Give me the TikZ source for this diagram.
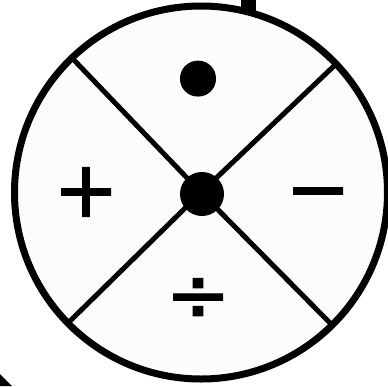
\documentclass[tikz,border=0pt]{standalone}
\usepackage{fontspec}
\setmainfont{DejaVu Sans}
\newfontfamily\opfont[FakeBold=1.5]{DejaVu Sans}
\definecolor{wheelfill}{RGB}{252,252,252}
\begin{document}
\begin{tikzpicture}[x=1pt,y=-1pt,
  rim/.style={line width=7pt, draw=black, fill=wheelfill},
  spoke/.style={line width=5pt, draw=black},
  sym/.style={inner sep=0pt, text=black, font=\opfont\fontsize{78}{78}\selectfont},
  bigdot/.style={inner sep=0pt, text=black, font=\opfont\fontsize{118}{118}\selectfont},
  hubdot/.style={circle, fill=black, minimum size=44pt, inner sep=0pt},
]
\useasboundingbox (0,0) rectangle (388,386);
% cut-off pieces at the edges
\fill[black] (241,0) rectangle (256,12);
\fill[black] (0,374) -- (12,386) -- (0,386) -- cycle;
% wheel
\coordinate (c) at (201,192.5);
\draw[rim] (c) circle (186.5pt);
\coordinate (tl) at (72,58);
\coordinate (tr) at (335,65);
\coordinate (bl) at (68,323);
\coordinate (br) at (333,326);
\draw[spoke] (c) -- (tl);
\draw[spoke] (c) -- (tr);
\draw[spoke] (c) -- (bl);
\draw[spoke] (c) -- (br);
\node[hubdot] (hub) at (202,194) {};
% operators
\node[bigdot] (times) at (198,92) {•};
\node[sym] (plus) at (86,192) {+};
\node[sym] (minus) at (318,191) {\vphantom{+}−};
\node[sym] (divide) at (198,300) {÷};
\end{tikzpicture}
\end{document}
